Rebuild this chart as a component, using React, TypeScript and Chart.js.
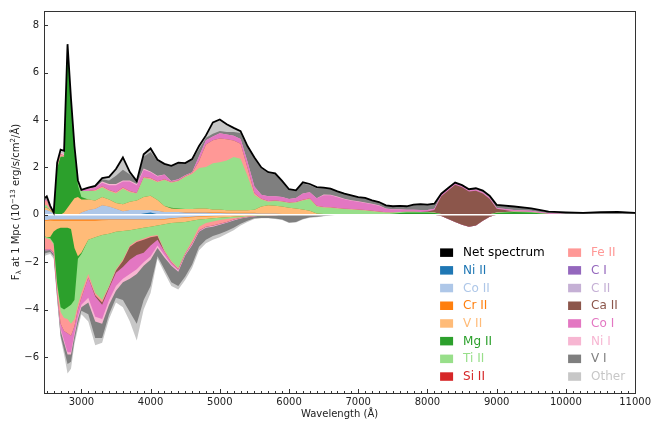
import React, { useEffect, useRef } from "react";
import { Chart, registerables } from "chart.js";

Chart.register(...registerables);

// Wavelength grid (Å)
const wavelength = [
  2460, 2500, 2550, 2600, 2650, 2700, 2750, 2800, 2850, 2900,
  2950, 3000, 3100, 3200, 3300, 3400, 3500, 3600, 3700, 3800,
  3900, 4000, 4100, 4200, 4300, 4400, 4500, 4600, 4700, 4800,
  4900, 5000, 5100, 5200, 5300, 5400, 5500, 5600, 5700, 5800,
  5900, 6000, 6100, 6200, 6300, 6400, 6500, 6600, 6700, 6800,
  6900, 7000, 7100, 7200, 7300, 7400, 7500, 7600, 7700, 7800,
  7900, 8000, 8100, 8200, 8300, 8400, 8500, 8600, 8700, 8800,
  8900, 9000, 9250, 9500, 9750, 10000, 10250, 10500, 10750, 11000,
];

// Net spectrum, 1e-13 erg/s/cm^2/Å
const netSpectrum = [
  0.68, 0.78, 0.38, 0.1, 2.2, 2.75, 2.7, 7.2, 4.9, 2.9,
  1.45, 1.05, 1.15, 1.22, 1.55, 1.6, 1.93, 2.42, 1.8, 1.42,
  2.55, 2.8, 2.32, 2.15, 2.07, 2.2, 2.18, 2.35, 2.9, 3.35,
  3.9, 4.02, 3.82, 3.67, 3.53, 2.9, 2.42, 2.0, 1.8, 1.75,
  1.43, 1.08, 1.03, 1.37, 1.3, 1.17, 1.15, 1.1, 0.99, 0.89,
  0.82, 0.75, 0.71, 0.61, 0.54, 0.4, 0.36, 0.38, 0.36, 0.43,
  0.45, 0.43, 0.47, 0.89, 1.13, 1.36, 1.25, 1.08, 1.12, 1.02,
  0.8, 0.42, 0.35, 0.27, 0.13, 0.1, 0.08, 0.11, 0.12, 0.08,
];

// ---- Emission contributions by ion ----
const niIIEmission = [
  0, 0, 0, 0, 0, 0, 0, 0, 0, 0,
  0, 0, 0, 0, 0, 0, 0, 0, 0, 0,
  0.05, 0.1, 0.02, 0, 0, 0, 0, 0, 0, 0,
  0, 0, 0, 0, 0, 0, 0, 0, 0, 0,
  0, 0, 0, 0, 0, 0, 0, 0, 0, 0,
  0, 0, 0, 0, 0, 0, 0, 0, 0, 0,
  0, 0, 0, 0, 0, 0, 0, 0, 0, 0,
  0, 0, 0, 0, 0, 0, 0, 0, 0, 0,
];
const coIIEmission = [
  0.2, 0.2, 0.15, 0.05, 0.02, 0, 0, 0, 0, 0,
  0, 0.1, 0.2, 0.25, 0.4, 0.35, 0.25, 0.15, 0.2, 0.2,
  0.15, 0.1, 0.15, 0.12, 0.12, 0.12, 0.1, 0.1, 0.1, 0.1,
  0.08, 0.08, 0.07, 0.07, 0.07, 0.07, 0.07, 0.05, 0.05, 0.05,
  0.03, 0.03, 0.02, 0.02, 0.02, 0, 0, 0, 0, 0,
  0, 0, 0, 0, 0, 0, 0, 0, 0, 0,
  0, 0, 0, 0, 0, 0, 0, 0, 0, 0,
  0, 0, 0, 0, 0, 0, 0, 0, 0, 0,
];
const crIIEmission = [
  0, 0, 0, 0, 0, 0, 0, 0, 0, 0,
  0, 0, 0, 0, 0, 0, 0, 0, 0, 0,
  0, 0, 0, 0, 0, 0, 0.02, 0.02, 0.02, 0.02,
  0.02, 0.02, 0.02, 0.02, 0.02, 0.02, 0.02, 0, 0, 0,
  0, 0, 0, 0, 0, 0, 0, 0, 0, 0,
  0, 0, 0, 0, 0, 0, 0, 0, 0, 0,
  0, 0, 0, 0, 0, 0, 0, 0, 0, 0,
  0, 0, 0, 0, 0, 0, 0, 0, 0, 0,
];
const vIIEmission = [
  0.1, 0.1, 0.05, 0, 0, 0, 0.1, 0.3, 0.5, 0.7,
  0.75, 0.55, 0.45, 0.35, 0.35, 0.3, 0.25, 0.3, 0.35, 0.4,
  0.55, 0.6, 0.45, 0.25, 0.15, 0.12, 0.12, 0.12, 0.15, 0.15,
  0.12, 0.12, 0.1, 0.1, 0.1, 0.1, 0.12, 0.3, 0.35, 0.33,
  0.32, 0.27, 0.25, 0.2, 0.15, 0.05, 0.03, 0.02, 0.02, 0,
  0, 0, 0, 0, 0, 0, 0, 0, 0, 0,
  0, 0, 0, 0, 0, 0, 0, 0, 0, 0,
  0, 0, 0, 0, 0, 0, 0, 0, 0, 0,
];
const mgIIEmission = [
  0, 0, 0, 0.05, 1.95, 2.45, 2.35, 6.7, 4.3, 2.0,
  0.5, 0.1, 0, 0, 0, 0, 0, 0, 0, 0,
  0, 0, 0, 0, 0.03, 0.03, 0, 0, 0, 0,
  0, 0, 0, 0, 0, 0, 0, 0, 0, 0,
  0, 0, 0, 0, 0, 0, 0, 0, 0, 0,
  0, 0, 0, 0, 0, 0.02, 0.04, 0.08, 0.1, 0.1,
  0.1, 0.1, 0.08, 0.03, 0, 0, 0, 0, 0, 0,
  0.02, 0.08, 0.12, 0.1, 0.02, 0, 0, 0, 0, 0,
];
const tiIIEmission = [
  0.1, 0.1, 0, 0, 0, 0, 0, 0.1, 0.1, 0.2,
  0.2, 0.25, 0.35, 0.4, 0.4, 0.35, 0.4, 0.65, 0.4, 0.3,
  0.8, 0.7, 0.75, 1.1, 1.05, 1.15, 1.35, 1.48, 1.7, 1.75,
  1.95, 2.0, 2.1, 2.25, 2.18, 1.45, 0.63, 0.3, 0.15, 0.2,
  0.2, 0.2, 0.25, 0.38, 0.5, 0.3, 0.28, 0.28, 0.25, 0.24,
  0.22, 0.2, 0.18, 0.15, 0.12, 0.08, 0.06, 0.04, 0.03, 0.03,
  0.02, 0.02, 0.02, 0, 0, 0, 0, 0, 0, 0,
  0, 0.02, 0.02, 0.02, 0.01, 0, 0, 0, 0, 0,
];
const feIIEmission = [
  0.15, 0.2, 0.05, 0, 0.1, 0.12, 0.05, 0, 0, 0,
  0, 0, 0, 0.05, 0.05, 0.05, 0.05, 0.05, 0.05, 0.02,
  0.05, 0.05, 0.05, 0.03, 0.03, 0.03, 0.05, 0.05, 0.3, 0.95,
  0.98, 1.0, 0.9, 0.7, 0.63, 0.35, 0.08, 0.03, 0.03, 0.02,
  0.02, 0.02, 0.02, 0.03, 0.03, 0.03, 0.02, 0.02, 0.02, 0.02,
  0.02, 0.02, 0.02, 0.02, 0.02, 0.01, 0, 0, 0, 0,
  0, 0, 0, 0, 0, 0, 0, 0, 0, 0,
  0, 0, 0, 0, 0, 0, 0, 0, 0, 0,
];
const caIIEmission = [
  0, 0, 0, 0, 0, 0, 0, 0, 0, 0,
  0, 0, 0, 0, 0, 0, 0, 0, 0, 0,
  0, 0, 0, 0, 0, 0, 0, 0, 0, 0,
  0, 0, 0, 0, 0, 0, 0, 0, 0, 0,
  0, 0, 0, 0, 0, 0, 0, 0, 0, 0,
  0, 0, 0, 0, 0, 0, 0, 0, 0, 0,
  0, 0.02, 0.1, 0.75, 1.03, 1.27, 1.16, 0.98, 1.02, 0.9,
  0.65, 0.15, 0, 0, 0, 0, 0, 0, 0, 0,
];
const coIEmission = [
  0.05, 0.05, 0, 0, 0, 0, 0, 0, 0, 0,
  0, 0.05, 0.1, 0.1, 0.15, 0.2, 0.3, 0.25, 0.4, 0.33,
  0.3, 0.25, 0.2, 0.2, 0.05, 0.05, 0.03, 0.03, 0.2, 0.18,
  0.15, 0.22, 0.2, 0.2, 0.2, 0.25, 0.27, 0.17, 0.2, 0.18,
  0.18, 0.15, 0.17, 0.27, 0.25, 0.32, 0.5, 0.5, 0.45, 0.4,
  0.35, 0.33, 0.3, 0.28, 0.24, 0.15, 0.12, 0.1, 0.08, 0.08,
  0.08, 0.06, 0.05, 0.06, 0.05, 0.05, 0.05, 0.05, 0.05, 0.05,
  0.05, 0.04, 0.06, 0.05, 0.03, 0.03, 0.02, 0.03, 0.03, 0.02,
];
const niIEmission = [
  0, 0, 0, 0, 0, 0.05, 0.1, 0, 0, 0,
  0, 0, 0, 0, 0.05, 0.05, 0.05, 0.05, 0.05, 0.05,
  0.05, 0.03, 0.03, 0, 0, 0, 0, 0, 0, 0,
  0, 0, 0, 0, 0, 0, 0, 0, 0, 0,
  0, 0, 0, 0, 0, 0, 0.03, 0.03, 0.03, 0.02,
  0.02, 0.02, 0.02, 0.02, 0.02, 0.01, 0.01, 0.01, 0, 0,
  0, 0, 0, 0, 0, 0, 0, 0, 0, 0,
  0, 0, 0, 0, 0, 0, 0, 0, 0, 0,
];
const vIEmission = [
  0.05, 0.07, 0.05, 0, 0, 0, 0, 0, 0, 0,
  0, 0, 0.05, 0.05, 0.1, 0.15, 0.35, 0.45, 0.25, 0.1,
  0.5, 0.82, 0.62, 0.45, 0.62, 0.68, 0.5, 0.52, 0.3, 0.1,
  0.12, 0.1, 0.1, 0.15, 0.25, 0.6, 1.2, 1.1, 0.97, 0.95,
  0.65, 0.38, 0.3, 0.42, 0.3, 0.42, 0.27, 0.25, 0.22, 0.21,
  0.21, 0.18, 0.19, 0.14, 0.14, 0.13, 0.13, 0.15, 0.15, 0.22,
  0.25, 0.23, 0.22, 0.05, 0.03, 0.02, 0.02, 0.03, 0.03, 0.05,
  0.06, 0.1, 0.12, 0.08, 0.05, 0.05, 0.04, 0.05, 0.06, 0.04,
];
const otherEmission = [
  0.03, 0.05, 0.05, 0, 0.13, 0.13, 0.1, 0.1, 0, 0,
  0, 0, 0, 0, 0.05, 0.15, 0.25, 0.5, 0.1, 0.02,
  0.1, 0.15, 0.05, 0, 0.02, 0.02, 0.03, 0.05, 0.15, 0.12,
  0.5, 0.5, 0.35, 0.2, 0.1, 0.08, 0.05, 0.05, 0.05, 0.02,
  0.03, 0.03, 0.02, 0.05, 0.05, 0.05, 0.02, 0, 0, 0,
  0, 0, 0, 0, 0, 0, 0, 0, 0, 0,
  0, 0, 0, 0, 0.02, 0.02, 0.02, 0.02, 0.02, 0.02,
  0.02, 0.03, 0.03, 0.02, 0.02, 0.02, 0.02, 0.03, 0.03, 0.02,
];

// ---- Absorption contributions by ion (magnitudes, drawn below zero) ----
const coIIAbsorption = [
  0.22, 0.22, 0.2, 0.2, 0.2, 0.2, 0.2, 0.2, 0.2, 0.2,
  0.2, 0.2, 0.2, 0.2, 0.2, 0.2, 0.2, 0.2, 0.2, 0.2,
  0.2, 0.2, 0.2, 0.18, 0.15, 0.12, 0.1, 0.08, 0.06, 0.05,
  0.04, 0.03, 0.02, 0.02, 0.01, 0.01, 0.01, 0, 0, 0,
  0, 0, 0, 0, 0, 0, 0, 0, 0, 0,
  0, 0, 0, 0, 0, 0, 0, 0, 0, 0,
  0, 0, 0, 0, 0, 0, 0, 0, 0, 0,
  0, 0, 0, 0, 0, 0, 0, 0, 0, 0,
];
const crIIAbsorption = [
  0.03, 0.03, 0.04, 0.05, 0.05, 0.05, 0.05, 0.05, 0.05, 0.05,
  0.05, 0.05, 0.05, 0.05, 0.03, 0.02, 0.02, 0.02, 0.02, 0.02,
  0.02, 0.02, 0.02, 0.02, 0.02, 0.02, 0.02, 0.02, 0.02, 0.02,
  0.02, 0.02, 0.01, 0.01, 0.01, 0.01, 0, 0, 0, 0,
  0, 0, 0, 0, 0, 0, 0, 0, 0, 0,
  0, 0, 0, 0, 0, 0, 0, 0, 0, 0,
  0, 0, 0, 0, 0, 0, 0, 0, 0, 0,
  0, 0, 0, 0, 0, 0, 0, 0, 0, 0,
];
const vIIAbsorption = [
  0.65, 0.7, 0.7, 0.45, 0.35, 0.3, 0.3, 0.3, 0.35, 1.15,
  1.5, 1.35, 0.8, 0.7, 0.62, 0.58, 0.5, 0.46, 0.43, 0.38,
  0.33, 0.28, 0.23, 0.2, 0.18, 0.18, 0.18, 0.15, 0.12, 0.11,
  0.09, 0.07, 0.07, 0.05, 0.04, 0.02, 0.02, 0.02, 0.01, 0.01,
  0, 0, 0, 0, 0, 0, 0, 0, 0, 0,
  0, 0, 0, 0, 0, 0, 0, 0, 0, 0,
  0, 0, 0, 0, 0, 0, 0, 0, 0, 0,
  0, 0, 0, 0, 0, 0, 0, 0, 0, 0,
];
const mgIIAbsorption = [
  0, 0, 0.05, 0.5, 2.3, 3.35, 3.45, 3.35, 3.2, 2.2,
  0.1, 0.05, 0, 0, 0, 0, 0, 0, 0, 0,
  0, 0, 0, 0, 0, 0, 0, 0, 0, 0,
  0, 0, 0, 0, 0, 0, 0, 0, 0, 0,
  0, 0, 0, 0, 0, 0, 0, 0, 0, 0,
  0, 0, 0, 0, 0, 0, 0, 0, 0, 0,
  0, 0, 0, 0, 0, 0, 0, 0, 0, 0,
  0, 0, 0, 0, 0, 0, 0, 0, 0, 0,
];
const tiIIAbsorption = [
  0.05, 0.05, 0.05, 0.05, 0.1, 0.2, 0.35, 0.5, 0.8, 0.8,
  1.95, 1.65, 1.45, 2.35, 2.75, 2.2, 1.58, 1.22, 0.65, 0.5,
  0.45, 0.4, 0.4, 1.1, 1.6, 1.93, 1.3, 0.85, 0.3, 0.17,
  0.13, 0.1, 0.08, 0.06, 0.04, 0.02, 0.01, 0.01, 0.01, 0.01,
  0, 0, 0, 0, 0, 0, 0, 0, 0, 0,
  0, 0, 0, 0, 0, 0, 0, 0, 0, 0,
  0, 0, 0, 0, 0, 0, 0, 0, 0, 0,
  0, 0, 0, 0, 0, 0, 0, 0, 0, 0,
];
const feIIAbsorption = [
  0.5, 0.45, 0.4, 0.35, 0.3, 0.5, 0.55, 0.6, 0.5, 0.3,
  0.2, 0.2, 0.15, 0.1, 0.1, 0.05, 0.05, 0.05, 0.05, 0.05,
  0.05, 0.05, 0.05, 0.05, 0.05, 0.05, 0.05, 0.1, 0.15, 0.15,
  0.17, 0.16, 0.12, 0.06, 0.04, 0.02, 0.01, 0.01, 0.01, 0,
  0, 0, 0, 0, 0, 0, 0, 0, 0, 0,
  0, 0, 0, 0, 0, 0, 0, 0, 0, 0,
  0, 0, 0, 0, 0, 0, 0, 0, 0, 0,
  0, 0, 0, 0, 0, 0, 0, 0, 0, 0,
];
const caIIAbsorption = [
  0, 0, 0, 0, 0, 0, 0, 0, 0, 0,
  0, 0, 0, 0.05, 0.1, 0.05, 0.1, 0.25, 0.55, 0.55,
  0.55, 0.35, 0.15, 0, 0, 0, 0, 0, 0, 0,
  0, 0, 0, 0, 0, 0, 0, 0, 0, 0,
  0, 0, 0, 0, 0, 0, 0, 0, 0, 0,
  0, 0, 0, 0, 0, 0, 0, 0, 0, 0,
  0, 0, 0, 0.05, 0.18, 0.3, 0.42, 0.5, 0.45, 0.25,
  0.08, 0, 0, 0, 0, 0, 0, 0, 0, 0,
];
const coIAbsorption = [
  0.05, 0.05, 0.05, 0.05, 0.1, 0.2, 0.4, 0.8, 0.7, 0.3,
  0.3, 0.3, 0.85, 0.85, 0.6, 0.5, 0.55, 0.5, 0.6, 0.6,
  0.4, 0.45, 0.25, 0.15, 0.1, 0.05, 0.05, 0.05, 0.05, 0.02,
  0.02, 0.02, 0.02, 0.02, 0.01, 0.01, 0.01, 0, 0, 0,
  0, 0, 0, 0, 0, 0, 0, 0, 0, 0,
  0, 0, 0, 0, 0, 0, 0, 0, 0, 0,
  0, 0, 0, 0, 0, 0, 0, 0, 0, 0,
  0, 0, 0, 0, 0, 0, 0, 0, 0, 0,
];
const niIAbsorption = [
  0, 0, 0, 0, 0, 0.1, 0.1, 0.1, 0.1, 0.1,
  0.1, 0.1, 0.2, 0.2, 0.2, 0.2, 0.2, 0.15, 0.2, 0.2,
  0.15, 0.15, 0.1, 0.1, 0.05, 0.05, 0.02, 0.03, 0.02, 0.03,
  0.03, 0.02, 0.02, 0.02, 0.01, 0.01, 0, 0, 0, 0,
  0, 0, 0, 0, 0, 0, 0, 0, 0, 0,
  0, 0, 0, 0, 0, 0, 0, 0, 0, 0,
  0, 0, 0, 0, 0, 0, 0, 0, 0, 0,
  0, 0, 0, 0, 0, 0, 0, 0, 0, 0,
];
const vIAbsorption = [
  0.15, 0.1, 0.08, 0.1, 0.1, 0.2, 0.3, 0.4, 0.3, 0.2,
  0.2, 0.15, 0.5, 0.7, 0.6, 0.4, 0.3, 0.75, 1.4, 2.1,
  1.45, 1.1, 0.35, 0.5, 0.7, 0.6, 0.88, 0.82, 0.63, 0.5,
  0.4, 0.38, 0.34, 0.31, 0.22, 0.15, 0.09, 0.09, 0.1, 0.14,
  0.2, 0.32, 0.3, 0.18, 0.1, 0.08, 0.05, 0.02, 0, 0,
  0, 0, 0, 0, 0, 0, 0, 0, 0, 0,
  0, 0, 0, 0, 0, 0, 0, 0, 0, 0,
  0, 0, 0, 0, 0, 0, 0, 0, 0, 0,
];
const otherAbsorption = [
  0.1, 0.1, 0.08, 0.1, 0.1, 0.1, 0.2, 0.4, 0.3, 0.15,
  0.2, 0.15, 0.3, 0.3, 0.2, 0.2, 0.2, 0.3, 0.4, 0.7,
  0.4, 0.3, 0.1, 0.15, 0.15, 0.15, 0.15, 0.15, 0.15, 0.15,
  0.15, 0.15, 0.12, 0.1, 0.07, 0.05, 0.03, 0.02, 0.02, 0.02,
  0.02, 0.03, 0.03, 0.02, 0.02, 0.02, 0.01, 0.01, 0, 0,
  0, 0, 0, 0, 0, 0, 0, 0, 0, 0,
  0, 0, 0, 0, 0, 0, 0, 0, 0, 0,
  0, 0, 0, 0, 0, 0, 0, 0, 0, 0,
];

// Ions in stacking / legend order, with their colours
const ions = [
  "Ni II", "Co II", "Cr II", "V II", "Mg II", "Ti II", "Si II", "Fe II",
  "C I", "C II", "Ca II", "Co I", "Ni I", "V I", "Other",
];
const ionColors = [
  "#1f77b4", "#aec7e8", "#ff7f0e", "#ffbb78", "#2ca02c", "#98df8a", "#d62728", "#ff9896",
  "#9467bd", "#c5b0d5", "#8c564b", "#e377c2", "#f7b6d2", "#7f7f7f", "#c7c7c7",
];

const xTicks = [3000, 4000, 5000, 6000, 7000, 8000, 9000, 10000, 11000];
const yTicks = [-6, -4, -2, 0, 2, 4, 6, 8];

const FONT = "'DejaVu Sans', 'Liberation Sans', sans-serif";
const TEXT = "#222";

type Table = Record<string, number[]>;

const emissionTable: Table = {
  "Ni II": niIIEmission, "Co II": coIIEmission, "Cr II": crIIEmission, "V II": vIIEmission,
  "Mg II": mgIIEmission, "Ti II": tiIIEmission, "Fe II": feIIEmission, "Ca II": caIIEmission,
  "Co I": coIEmission, "Ni I": niIEmission, "V I": vIEmission, "Other": otherEmission,
};
const absorptionTable: Table = {
  "Co II": coIIAbsorption, "Cr II": crIIAbsorption, "V II": vIIAbsorption, "Mg II": mgIIAbsorption,
  "Ti II": tiIIAbsorption, "Fe II": feIIAbsorption, "Ca II": caIIAbsorption, "Co I": coIAbsorption,
  "Ni I": niIAbsorption, "V I": vIAbsorption, "Other": otherAbsorption,
};

// Stack the contributions: each layer is filled from zero up to its running total;
// outer layers are painted first so inner ones sit on top without seams.
function layerDatasets(table: Table, sign: number) {
  const running = wavelength.map(() => 0);
  const sets: any[] = [];
  ions.forEach((ion, k) => {
    const values = table[ion];
    if (!values) return;
    values.forEach((v, i) => {
      running[i] += v;
    });
    sets.push({
      label: ion,
      data: wavelength.map((w, i) => ({ x: w, y: sign * running[i] })),
      backgroundColor: ionColors[k],
      borderColor: ionColors[k],
      borderWidth: 0,
      pointRadius: 0,
      fill: "origin",
      order: 1 + sets.length,
    });
  });
  return sets;
}

function drawRich(ctx: CanvasRenderingContext2D, parts: { t: string; s: number; dy: number }[], x: number, y: number) {
  let total = 0;
  for (const p of parts) {
    ctx.font = `${p.s}px ${FONT}`;
    total += ctx.measureText(p.t).width;
  }
  let cx = x - total / 2;
  for (const p of parts) {
    ctx.font = `${p.s}px ${FONT}`;
    ctx.fillText(p.t, cx, y + p.dy);
    cx += ctx.measureText(p.t).width;
  }
}

export default function App() {
  const canvasRef = useRef<HTMLCanvasElement | null>(null);

  useEffect(() => {
    const canvas = canvasRef.current;
    if (!canvas) return;

    const emissionSets = layerDatasets(emissionTable, 1);
    const absorptionSets = layerDatasets(absorptionTable, -1);
    const netSet = {
      label: "Net spectrum",
      data: wavelength.map((w, i) => ({ x: w, y: netSpectrum[i] })),
      borderColor: "#000",
      backgroundColor: "#000",
      borderWidth: 1.8,
      pointRadius: 0,
      fill: false,
      order: 0,
    };
    const datasets = [...emissionSets, ...absorptionSets, netSet];
    const netIndex = datasets.length - 1;

    const decor = {
      id: "sdecDecor",
      beforeDatasetDraw(chart: any, args: any) {
        if (args.index !== netIndex) return;
        const { ctx, chartArea } = chart;
        const y0 = chart.scales.y.getPixelForValue(0);
        ctx.save();
        ctx.strokeStyle = "#ffffff";
        ctx.lineWidth = 1.5;
        ctx.beginPath();
        ctx.moveTo(chartArea.left, y0);
        ctx.lineTo(chartArea.right, y0);
        ctx.stroke();
        ctx.restore();
      },
      afterDraw(chart: any) {
        const { ctx, chartArea } = chart;
        const { left, right, top, bottom } = chartArea;
        const xs = chart.scales.x;
        const ys = chart.scales.y;
        ctx.save();

        // frame
        ctx.strokeStyle = "#333";
        ctx.lineWidth = 1;
        ctx.strokeRect(Math.round(left) + 0.5, Math.round(top) + 0.5, Math.round(right - left), Math.round(bottom - top));

        // inward ticks
        ctx.beginPath();
        for (let w = 2500; w <= 11000; w += 100) {
          const px = Math.round(xs.getPixelForValue(w)) + 0.5;
          const len = w % 1000 === 0 ? 4 : 2;
          ctx.moveTo(px, bottom);
          ctx.lineTo(px, bottom - len);
        }
        for (const v of yTicks) {
          const py = Math.round(ys.getPixelForValue(v)) + 0.5;
          ctx.moveTo(left, py);
          ctx.lineTo(left + 4, py);
        }
        ctx.stroke();

        // axis titles
        ctx.fillStyle = TEXT;
        ctx.font = `10px ${FONT}`;
        ctx.textAlign = "center";
        ctx.textBaseline = "middle";
        ctx.fillText("Wavelength (Å)", (left + right) / 2, 414);

        ctx.save();
        ctx.translate(19, (top + bottom) / 2);
        ctx.rotate(-Math.PI / 2);
        ctx.textAlign = "left";
        ctx.textBaseline = "alphabetic";
        drawRich(
          ctx,
          [
            { t: "F", s: 10, dy: 0 },
            { t: "λ", s: 7, dy: 2 },
            { t: " at 1 Mpc (10", s: 10, dy: 0 },
            { t: "−13", s: 7, dy: -4 },
            { t: " erg/s/cm", s: 10, dy: 0 },
            { t: "2", s: 7, dy: -4 },
            { t: "/Å)", s: 10, dy: 0 },
          ],
          0,
          0
        );
        ctx.restore();

        // legend, two columns in the lower right
        const entries = [{ label: "Net spectrum", color: "#000000", text: "#000000" }].concat(
          ions.map((ion, k) => ({ label: ion, color: ionColors[k], text: ionColors[k] }))
        );
        const rowGap = 17.7;
        const firstRow = bottom - 16.5 - 7 * rowGap;
        const cols = [right - 195, right - 67];
        ctx.font = `12px ${FONT}`;
        ctx.textAlign = "left";
        ctx.textBaseline = "middle";
        entries.forEach((e, i) => {
          const col = Math.floor(i / 8);
          const row = i % 8;
          const x = cols[col];
          const y = firstRow + row * rowGap;
          ctx.fillStyle = e.color;
          ctx.fillRect(x, y - 4.2, 13, 8.5);
          ctx.fillStyle = e.text;
          ctx.fillText(e.label, x + 23, y + 0.5);
        });

        ctx.restore();
      },
    };

    const chart = new Chart(canvas, {
      type: "line",
      data: { datasets },
      options: {
        animation: false,
        responsive: false,
        devicePixelRatio: 1,
        layout: { padding: { left: 0, right: 16, top: 7, bottom: 0 } },
        plugins: {
          legend: { display: false },
          tooltip: { enabled: false },
          filler: { propagate: false },
        },
        elements: { line: { tension: 0 }, point: { radius: 0 } },
        scales: {
          x: {
            type: "linear",
            min: 2460,
            max: 11000,
            grid: { display: false, drawTicks: false },
            border: { display: false },
            afterBuildTicks: (s: any) => {
              s.ticks = xTicks.map((v) => ({ value: v }));
            },
            afterFit: (s: any) => {
              s.height = 29;
            },
            ticks: {
              autoSkip: false,
              maxRotation: 0,
              padding: 3,
              color: TEXT,
              font: { family: FONT, size: 10 },
              callback: (v: any) => String(v),
            },
          },
          y: {
            type: "linear",
            min: -7.52,
            max: 8.6,
            grid: { display: false, drawTicks: false },
            border: { display: false },
            afterBuildTicks: (s: any) => {
              s.ticks = yTicks.map((v) => ({ value: v }));
            },
            afterFit: (s: any) => {
              s.width = 44;
            },
            ticks: {
              padding: 5,
              color: TEXT,
              font: { family: FONT, size: 10 },
              callback: (v: any) => (v < 0 ? "−" + Math.abs(v) : String(v)),
            },
          },
        },
      },
      plugins: [decor],
    } as any);

    return () => chart.destroy();
  }, []);

  return (
    <div style={{ position: "absolute", left: 0, top: 0, width: 654, height: 422, background: "#fff" }}>
      <canvas ref={canvasRef} width={654} height={422} style={{ display: "block", width: 654, height: 422 }} />
    </div>
  );
}
